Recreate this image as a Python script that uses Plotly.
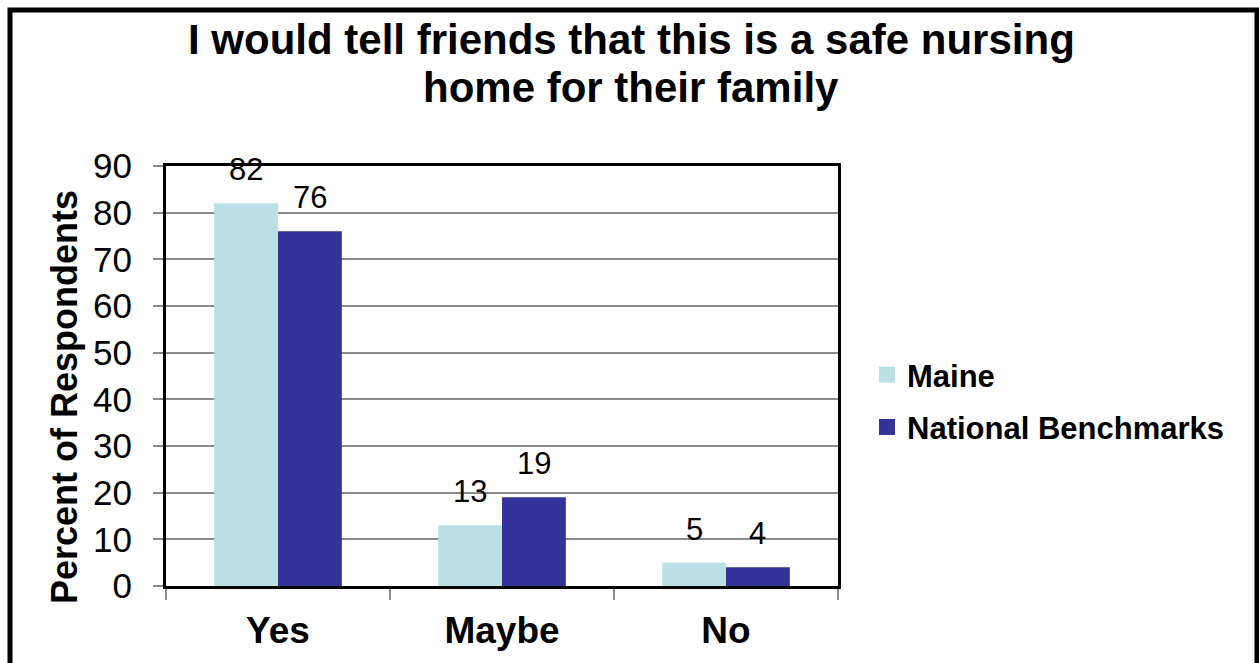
import plotly.graph_objects as go

# Survey responses (percent of respondents)
categories = ["Yes", "Maybe", "No"]
maine = [82, 13, 5]
national = [76, 19, 4]
series_names = ["Maine", "National Benchmarks"]
series_colors = ["#BAE0E3", "#343399"]
y_ticks = [0, 10, 20, 30, 40, 50, 60, 70, 80, 90]
title_lines = ["I would tell friends that this is a safe nursing", "home for their family"]

W, H = 1259, 663
L, R, T, B = 166, 421, 166, 77
plot_w = W - L - R
plot_h = H - T - B

FONT = "Liberation Sans, Arial, sans-serif"


def px_x(px):
    return (px - L) / plot_w


def px_y(py):
    return (H - B - py) / plot_h


fig = go.Figure()
for name, vals, color in zip(series_names, [maine, national], series_colors):
    fig.add_trace(go.Bar(
        x=categories, y=vals, name=name, marker_color=color,
        marker_line_width=0, showlegend=False,
    ))
    # legend entry with a larger square swatch
    fig.add_trace(go.Scatter(
        x=[None], y=[None], mode="markers", name=f"<b>{name}</b>", legendgroup=name,
        marker=dict(symbol="square", size=16, color=color),
    ))

# value labels above each bar
bar_px = plot_w / 3 * (1 - 0.43) / 2
for vals, sign in [(maine, -1), (national, 1)]:
    for c, v in zip(categories, vals):
        fig.add_annotation(
            x=c, y=v, text=str(v), showarrow=False, yanchor="bottom",
            xshift=sign * bar_px / 2, yshift=14,
            font=dict(family=FONT, size=31, color="black"),
        )

# two-line chart title
for line, cy in zip(title_lines, [40, 87]):
    fig.add_annotation(
        xref="paper", yref="paper", x=px_x(631), y=px_y(cy),
        xanchor="center", yanchor="middle", showarrow=False,
        text=f"<b>{line}</b>",
        font=dict(family=FONT, size=42, color="black"),
    )

# y-axis title
fig.add_annotation(
    xref="paper", yref="paper", x=px_x(64), y=px_y(397),
    xanchor="center", yanchor="middle",
    text="<b>Percent of Respondents</b>", textangle=-90, showarrow=False,
    font=dict(family=FONT, size=36, color="black"),
)

# outer frame around the whole chart
fig.add_shape(
    type="rect", xref="paper", yref="paper",
    x0=px_x(10), x1=px_x(1257), y0=px_y(700), y1=px_y(10),
    line=dict(color="black", width=5), fillcolor="rgba(0,0,0,0)", layer="above",
)

fig.update_layout(
    width=W, height=H,
    margin=dict(l=L, r=R, t=T, b=B),
    paper_bgcolor="white", plot_bgcolor="white",
    barmode="group", bargap=0.43, bargroupgap=0,
    legend=dict(
        x=px_x(867), xanchor="left", y=px_y(401), yanchor="middle",
        font=dict(family=FONT, size=31, color="black"),
        tracegroupgap=9, bgcolor="rgba(0,0,0,0)",
    ),
    font=dict(family=FONT, color="black"),
    xaxis=dict(
        type="category", tickson="boundaries", ticks="outside", ticklen=11,
        tickcolor="#888888", tickwidth=2,
        showline=True, linecolor="black", linewidth=3, mirror=True,
        showgrid=False, ticklabelstandoff=10,
        tickfont=dict(family=FONT, size=37, color="black"),
        tickprefix="<b>", ticksuffix="</b>",
    ),
    yaxis=dict(
        range=[0, 90], tickvals=y_ticks, ticks="outside", ticklen=10,
        tickcolor="#888888", tickwidth=2,
        showline=True, linecolor="black", linewidth=3, mirror=True,
        showgrid=True, gridcolor="#8c8c8c", gridwidth=2,
        ticklabelstandoff=14,
        tickfont=dict(family=FONT, size=35, color="black"),
        zeroline=False,
    ),
)

fig.write_html("out.html")
